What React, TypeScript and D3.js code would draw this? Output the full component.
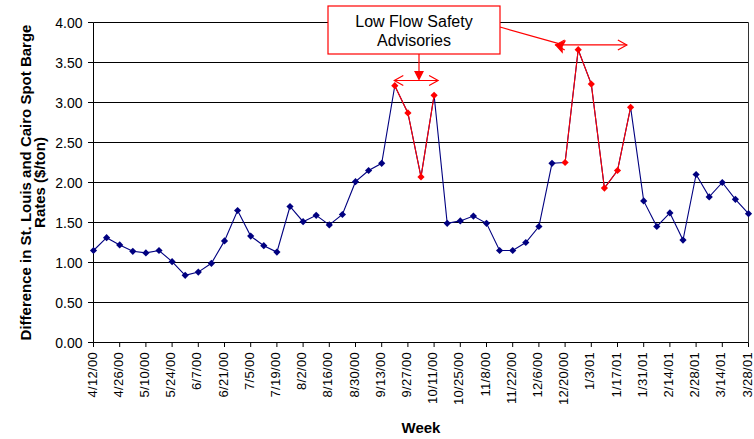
import React from "react";
import * as d3 from "d3";

// Weekly spread between St. Louis and Cairo spot barge rates ($/ton), 4/12/00 - 3/28/01
const startWeek = new Date(2000, 3, 12);
const rateDiff = [
  1.15, 1.31, 1.22, 1.14, 1.12, 1.15, 1.01, 0.84, 0.88, 0.99,
  1.27, 1.65, 1.33, 1.21, 1.13, 1.7, 1.51, 1.59, 1.47, 1.6,
  2.01, 2.15, 2.24, 3.21, 2.87, 2.07, 3.09, 1.49, 1.52, 1.58,
  1.49, 1.15, 1.15, 1.25, 1.45, 2.24, 2.25, 3.66, 3.23, 1.93,
  2.15, 2.94, 1.77, 1.45, 1.62, 1.28, 2.1, 1.82, 2.0, 1.79,
  1.61,
];
// weeks (index range, inclusive) under low flow safety advisories
const advisoryRuns: [number, number][] = [
  [23, 26],
  [36, 41],
];
const tickLabels = [
  "4/12/00", "4/26/00", "5/10/00", "5/24/00", "6/7/00", "6/21/00", "7/5/00",
  "7/19/00", "8/2/00", "8/16/00", "8/30/00", "9/13/00", "9/27/00", "10/11/00",
  "10/25/00", "11/8/00", "11/22/00", "12/6/00", "12/20/00", "1/3/01", "1/17/01",
  "1/31/01", "2/14/01", "2/28/01", "3/14/01", "3/28/01",
];
const yTicks = [0, 0.5, 1, 1.5, 2, 2.5, 3, 3.5, 4];

const width = 754;
const height = 439;
const margin = { top: 22.5, right: 5.5, bottom: 96.5, left: 93.5 };
const BLUE = "#000080";
const RED = "#ff0000";
const FONT = "Arial, 'Liberation Sans', sans-serif";

const weeks = rateDiff.map((_, i) => d3.timeDay.offset(startWeek, 7 * i));

const App: React.FC = () => {
  const innerW = width - margin.left - margin.right;
  const innerH = height - margin.top - margin.bottom;

  const x = d3
    .scaleTime()
    .domain([weeks[0], weeks[weeks.length - 1]])
    .range([margin.left, margin.left + innerW]);
  const y = d3
    .scaleLinear()
    .domain([0, 4])
    .range([margin.top + innerH, margin.top]);

  const line = d3
    .line<number>()
    .x((_, i) => x(weeks[i]))
    .y((d) => y(d));

  const redLines = advisoryRuns.map(([a, b]) =>
    d3
      .line<number>()
      .x((i) => x(weeks[i]))
      .y((i) => y(rateDiff[i]))(d3.range(a, b + 1))
  );
  const redIdx = new Set(advisoryRuns.flatMap(([a, b]) => d3.range(a, b + 1)));

  const diamond = (cx: number, cy: number, r: number) =>
    `M${cx},${cy - r}L${cx + r},${cy}L${cx},${cy + r}L${cx - r},${cy}Z`;

  const bottom = margin.top + innerH;
  const right = margin.left + innerW;

  // annotation geometry
  const box = { x0: 328, x1: 500, y0: 6, y1: 54 };
  const arr1y = y(3.275);
  const arr1a = x(weeks[23]) - 0.5;
  const arr1b = x(weeks[26]) + 4;
  const arr2y = y(3.72);
  const arr2a = x(d3.timeDay.offset(weeks[35], 2));
  const arr2b = x(d3.timeDay.offset(weeks[40], 5));
  const openHead = (tx: number, ty: number, dir: number) =>
    `M${tx - dir * 9},${ty - 5}L${tx},${ty}L${tx - dir * 9},${ty + 5}`;

  return (
    <svg
      width={width}
      height={height}
      style={{ position: "absolute", left: 0, top: 0, background: "#fff" }}
      fontFamily={FONT}
    >
      {/* gridlines */}
      {yTicks.map((t) => (
        <g key={t}>
          <line x1={margin.left} x2={right} y1={y(t)} y2={y(t)} stroke="#000" strokeWidth={1} />
          <line x1={margin.left - 5.5} x2={margin.left} y1={y(t)} y2={y(t)} stroke="#000" />
          <text
            x={margin.left - 11}
            y={y(t)}
            dy="0.36em"
            textAnchor="end"
            fontSize={14}
          >
            {t.toFixed(2)}
          </text>
        </g>
      ))}
      <line x1={right} x2={right} y1={margin.top} y2={bottom} stroke="#333" />
      <line x1={margin.left} x2={margin.left} y1={margin.top} y2={bottom} stroke="#000" />

      {/* x ticks and labels */}
      {tickLabels.map((lab, i) => {
        const tx = x(weeks[i * 2]);
        return (
          <g key={lab}>
            <line x1={tx} x2={tx} y1={bottom} y2={bottom + 4.5} stroke="#000" />
            <text
              transform={`translate(${tx + 3},${bottom + 9.5}) rotate(-90)`}
              textAnchor="end"
              fontSize={13}
              letterSpacing={0.3}
            >
              {lab}
            </text>
          </g>
        );
      })}

      {/* series */}
      <path d={line(rateDiff) ?? ""} fill="none" stroke={BLUE} strokeWidth={1.1} />
      {redLines.map((d, i) => (
        <path key={i} d={d ?? ""} fill="none" stroke={RED} strokeWidth={1.1} />
      ))}
      {rateDiff.map((v, i) => (
        <path
          key={i}
          d={diamond(x(weeks[i]), y(v), 3.6)}
          fill={redIdx.has(i) ? RED : BLUE}
        />
      ))}

      {/* axis titles */}
      <text
        x={(margin.left + right) / 2}
        y={433}
        textAnchor="middle"
        fontSize={15}
        fontWeight="bold"
      >
        Week
      </text>
      <text
        transform={`translate(31,${(margin.top + bottom) / 2}) rotate(-90)`}
        textAnchor="middle"
        fontSize={15}
        fontWeight="bold"
      >
        <tspan x={0} y={0}>Difference in St. Louis and Cairo Spot Barge</tspan>
        <tspan x={0} y={14}>Rates ($/ton)</tspan>
      </text>

      {/* annotation */}
      <g stroke={RED} fill="none" strokeWidth={1.2}>
        <line x1={box.x1} y1={27} x2={arr2a + 4} y2={arr2y - 1} />
        <path
          d={`M${arr2a},${arr2y}l8,-5.5l-1.5,5.5l1.5,5.5z`}
          fill={RED}
          transform={`rotate(14,${arr2a},${arr2y})`}
        />
        <line x1={arr2a} x2={arr2b} y1={arr2y} y2={arr2y} />
        <path d={openHead(arr2a, arr2y, -1)} />
        <path d={openHead(arr2b, arr2y, 1)} />

        <line x1={419} x2={419} y1={box.y1} y2={arr1y - 6} />
        <path d={`M419,${arr1y - 1}l-4,-8l8,0z`} fill={RED} />
        <line x1={arr1a} x2={arr1b} y1={arr1y} y2={arr1y} />
        <path d={openHead(arr1a, arr1y, -1)} />
        <path d={openHead(arr1b, arr1y, 1)} />
      </g>
      <rect
        x={box.x0}
        y={box.y0}
        width={box.x1 - box.x0}
        height={box.y1 - box.y0}
        fill="#fff"
        stroke={RED}
        strokeWidth={1.2}
      />
      <text x={414} y={27} textAnchor="middle" fontSize={16}>
        Low Flow Safety
      </text>
      <text x={414} y={45.5} textAnchor="middle" fontSize={16}>
        Advisories
      </text>
    </svg>
  );
};

export default App;
